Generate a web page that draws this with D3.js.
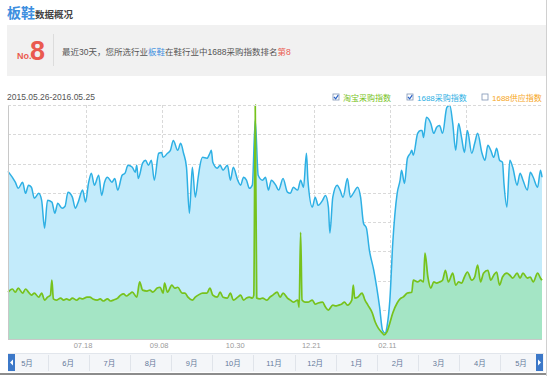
<!DOCTYPE html>
<html>
<head>
<meta charset="utf-8">
<script src="https://cdn.jsdelivr.net/npm/d3@7"></script>
<style>
  body { margin: 0; background: #fff; }
  svg { display: block; font-family: "Liberation Sans", "Noto Sans CJK SC", sans-serif; }
</style>
</head>
<body>
<div id="chart"></div>
<script>
// ---- data ----
const startDate = "2015-05-26";
const endDate = "2016-05-25";
const rankText = ["最近30天，您所选行业", "板鞋", "在鞋行业中1688采购指数排名", "第8"];
const legendNames = ["淘宝采购指数", "1688采购指数", "1688供应指数"];
const legendChecked = [true, true, false];
const tickDates = ["2015-07-18", "2015-09-08", "2015-10-30", "2015-12-21", "2016-02-11", "2016-04-03"];
const tickLabels = ["07.18", "09.08", "10.30", "12.21", "02.11", ""];
const navMonths = ["5月", "6月", "7月", "8月", "9月", "10月", "11月", "12月", "1月", "2月", "3月", "4月", "5月"];

// [day since start, index value]
const purchase1688 = [[0,573],[5,536],[7,515],[10,536],[12,498],[14,526],[16,519],[18,481],[21,498],[23,474],[25,379],[27,474],[30,468],[32,430],[34,464],[37,447],[39,454],[41,502],[44,485],[46,447],[48,468],[51,509],[53,468],[55,532],[57,567],[59,526],[62,560],[64,491],[66,536],[68,553],[71,536],[73,549],[75,509],[78,560],[80,567],[82,594],[85,587],[87,570],[88,594],[89,549],[92,601],[94,611],[96,594],[98,611],[100,543],[103,635],[105,638],[106,621],[109,635],[111,645],[113,679],[116,645],[118,669],[120,635],[122,587],[124,430],[126,587],[128,485],[130,553],[131,587],[133,621],[136,618],[138,635],[139,645],[140,604],[143,584],[145,594],[147,577],[150,594],[152,543],[154,587],[157,543],[159,526],[161,553],[163,543],[165,515],[167,526],[169,747],[171,560],[174,543],[176,553],[178,509],[180,543],[183,526],[185,509],[188,549],[191,502],[193,498],[195,519],[198,509],[200,543],[202,519],[204,635],[205,543],[208,451],[210,485],[212,457],[215,474],[217,491],[219,451],[220,362],[222,485],[225,526],[227,509],[229,485],[232,549],[234,485],[236,498],[239,519],[241,485],[243,396],[245,379],[247,304],[250,235],[252,177],[254,109],[256,30],[258,20],[259,41],[261,133],[263,328],[266,498],[268,543],[269,577],[271,532],[273,618],[275,635],[276,645],[277,628],[280,703],[282,713],[283,713],[284,689],[286,758],[289,737],[291,703],[293,724],[295,730],[297,703],[300,792],[302,798],[304,737],[306,645],[308,737],[310,689],[312,638],[314,713],[317,635],[319,669],[321,703],[324,635],[326,611],[328,662],[330,645],[332,621],[334,652],[336,611],[338,604],[339,532],[341,451],[343,611],[345,587],[348,526],[350,567],[352,543],[355,509],[357,570],[359,553],[362,519],[364,577],[365,553]];

const taobaoIndex = [[0,160],[3,171],[5,160],[7,174],[10,157],[12,171],[14,160],[16,150],[18,157],[21,143],[23,157],[25,133],[27,143],[29,150],[30,201],[31,137],[33,133],[36,140],[38,133],[40,137],[42,133],[44,140],[47,133],[49,140],[51,137],[54,143],[56,143],[58,137],[61,133],[63,137],[65,130],[68,137],[70,130],[72,133],[75,140],[77,150],[79,154],[81,147],[83,154],[85,160],[88,143],[90,195],[92,167],[95,164],[97,167],[99,160],[102,174],[104,177],[106,157],[107,191],[109,160],[112,184],[114,174],[116,177],[119,157],[121,157],[123,143],[126,133],[128,143],[130,150],[133,157],[136,157],[138,174],[140,150],[143,143],[145,160],[147,143],[150,140],[152,157],[154,133],[157,143],[159,150],[161,133],[163,140],[165,143],[167,140],[168,150],[169,800],[170,140],[172,137],[174,140],[177,133],[179,143],[181,150],[184,160],[186,143],[188,157],[191,140],[193,133],[195,126],[198,133],[199,109],[200,365],[201,133],[203,126],[205,126],[208,133],[210,119],[212,123],[215,126],[217,109],[219,99],[222,116],[224,113],[226,116],[228,119],[230,126],[232,116],[235,133],[236,184],[237,140],[239,143],[242,157],[244,133],[246,116],[249,89],[251,58],[253,38],[256,20],[257,14],[259,24],[261,55],[263,89],[266,123],[268,137],[270,143],[273,157],[276,160],[277,201],[280,195],[282,201],[284,195],[285,294],[287,212],[289,174],[291,195],[293,191],[295,195],[297,201],[299,235],[301,195],[304,225],[306,184],[308,195],[310,191],[312,212],[314,229],[317,201],[319,212],[321,253],[323,195],[325,225],[328,235],[330,201],[332,218],[334,229],[336,184],[338,212],[341,225],[343,218],[345,208],[348,225],[350,208],[352,225],[355,208],[357,212],[359,195],[362,225],[364,208],[365,201]];

// ---- setup ----
const W = 549, H = 376;
const plot = {left: 8, right: 542, top: 105, bottom: 339};
const blue = "#2eb0e4", green = "#77c21c", orange = "#f6a623", red = "#ea5a4f";

const svg = d3.select("#chart").append("svg").attr("width", W).attr("height", H);
const parse = d3.timeParse("%Y-%m-%d");
const t0 = parse(startDate);
const toDate = d => d3.timeDay.offset(t0, d);

const x = d3.scaleTime().domain([t0, parse(endDate)]).range([plot.left, plot.right]);
const y = d3.scaleLinear().domain([0, 800]).range([plot.bottom, plot.top]);

// ---- header ----
svg.append("text").attr("x", 7).attr("y", 18)
  .call(t => {
    t.append("tspan").text("板鞋").attr("fill", "#3d8fdf").attr("font-size", 14).attr("font-weight", "bold");
    t.append("tspan").text("数据概况").attr("fill", "#444").attr("font-size", 9.5).attr("font-weight", "bold");
  });

svg.append("rect").attr("x", 7).attr("y", 25).attr("width", 539).attr("height", 51).attr("fill", "#f1f1f1");
svg.append("text").attr("x", 17).attr("y", 59).attr("fill", red).attr("font-size", 9).attr("font-weight", "bold").text("No.");
svg.append("text").attr("x", 30).attr("y", 60).attr("fill", red).attr("font-size", 27).attr("font-weight", "bold").text("8");
svg.append("line").attr("x1", 53.5).attr("x2", 53.5).attr("y1", 34).attr("y2", 66).attr("stroke", "#dcdcdc");

const rank = svg.append("text").attr("x", 62).attr("y", 55).attr("font-size", 8.5).attr("fill", "#555");
rankText.forEach((s, i) => {
  rank.append("tspan").text(s).attr("fill", i === 1 ? "#3d8fdf" : i === 3 ? red : "#555");
});

svg.append("text").attr("x", 7).attr("y", 100).attr("font-size", 8.5).attr("fill", "#555").text(startDate.replace(/-/g, ".") + "-" + endDate.replace(/-/g, "."));

// legend
const legendX = [333, 407, 482];
const legendColors = [green, blue, orange];
legendNames.forEach((name, i) => {
  const g = svg.append("g").attr("transform", `translate(${legendX[i]},94)`);
  g.append("rect").attr("width", 6).attr("height", 6).attr("fill", "#fff").attr("stroke", "#7f95b5").attr("stroke-width", 0.8);
  if (legendChecked[i]) {
    g.append("path").attr("d", "M1,3 L2.7,4.8 L5.2,1.2").attr("fill", "none").attr("stroke", "#2b63c6").attr("stroke-width", 1.2);
  }
  g.append("text").attr("x", 10).attr("y", 6.5).attr("font-size", 8).attr("fill", legendColors[i]).text(name);
});

// ---- plot ----
const gridY = d3.range(100, 800, 100);
svg.append("g").selectAll("line").data(gridY).join("line")
  .attr("x1", plot.left).attr("x2", plot.right)
  .attr("y1", d => Math.round(y(d)) + 0.5).attr("y2", d => Math.round(y(d)) + 0.5)
  .attr("stroke", "#d9d9d9").attr("stroke-dasharray", "3,2");
svg.append("g").selectAll("line").data(tickDates).join("line")
  .attr("x1", d => Math.round(x(parse(d))) + 0.5).attr("x2", d => Math.round(x(parse(d))) + 0.5)
  .attr("y1", plot.top).attr("y2", plot.bottom)
  .attr("stroke", "#d9d9d9").attr("stroke-dasharray", "3,2");

const area = d3.area().curve(d3.curveMonotoneX)
  .x(d => x(toDate(d[0]))).y0(plot.bottom).y1(d => y(d[1]));
const line = d3.line().curve(d3.curveMonotoneX)
  .x(d => x(toDate(d[0]))).y(d => y(d[1]));

svg.append("path").datum(purchase1688).attr("d", area).attr("fill", "#c3ebfb");
svg.append("path").datum(taobaoIndex).attr("d", area).attr("fill", "#a4e5c5");
svg.append("path").datum(purchase1688).attr("d", line).attr("fill", "none").attr("stroke", blue).attr("stroke-width", 1.5);
svg.append("path").datum(taobaoIndex).attr("d", line).attr("fill", "none").attr("stroke", green).attr("stroke-width", 1.7);

// frame
svg.append("line").attr("x1", plot.left + 0.5).attr("x2", plot.left + 0.5).attr("y1", plot.top).attr("y2", plot.bottom).attr("stroke", "#c8c8c8");
svg.append("line").attr("x1", plot.left).attr("x2", plot.right).attr("y1", plot.top + 0.5).attr("y2", plot.top + 0.5).attr("stroke", "#d9d9d9").attr("stroke-dasharray", "3,2");
svg.append("line").attr("x1", plot.left).attr("x2", plot.right).attr("y1", plot.bottom + 0.5).attr("y2", plot.bottom + 0.5).attr("stroke", "#c8c8c8");

// x axis
const xAxis = d3.axisBottom(x)
  .tickValues(tickDates.map(parse))
  .tickFormat((d, i) => tickLabels[i])
  .tickSize(0).tickPadding(4);
svg.append("g").attr("transform", `translate(0,${plot.bottom})`).call(xAxis)
  .call(g => g.select(".domain").remove())
  .selectAll("text").attr("font-size", 7.5).attr("fill", "#9a9a9a").attr("dx", -3)
  .style("font-family", "Liberation Sans, sans-serif");

// ---- navigator bar ----
const nav = svg.append("g");
nav.append("rect").attr("x", 8).attr("y", 353).attr("width", 536).attr("height", 19).attr("fill", "#f4f6f9");
nav.append("line").attr("x1", 8).attr("x2", 544).attr("y1", 353.5).attr("y2", 353.5).attr("stroke", "#e2e6ec");
const navX = d3.scalePoint().domain(d3.range(navMonths.length)).range([27, 521]);
const step = navX.step();
nav.selectAll("line.sep").data(d3.range(navMonths.length - 1)).join("line").attr("class", "sep")
  .attr("x1", d => Math.round(navX(d) + step / 2) + 0.5).attr("x2", d => Math.round(navX(d) + step / 2) + 0.5)
  .attr("y1", 355).attr("y2", 371).attr("stroke", "#e0e4ea");
nav.selectAll("text").data(navMonths).join("text")
  .attr("x", (d, i) => navX(i)).attr("y", 366).attr("text-anchor", "middle")
  .attr("font-size", 7.5).attr("fill", "#64799a").text(d => d);
nav.append("rect").attr("x", 8).attr("y", 354).attr("width", 7).attr("height", 17).attr("fill", "#3c78c8");
nav.append("path").attr("d", "M13,359.5 L10,362.5 L13,365.5 Z").attr("fill", "#fff");
nav.append("rect").attr("x", 536).attr("y", 354).attr("width", 7).attr("height", 17).attr("fill", "#3c78c8");
nav.append("path").attr("d", "M538,359.5 L541,362.5 L538,365.5 Z").attr("fill", "#fff");

svg.append("line").attr("x1", 0).attr("x2", 547).attr("y1", 374).attr("y2", 374).attr("stroke", "#666").attr("stroke-width", 1.5);
svg.append("line").attr("x1", 546.5).attr("x2", 546.5).attr("y1", 0).attr("y2", 376).attr("stroke", "#d0d0d0");
</script>
</body>
</html>
